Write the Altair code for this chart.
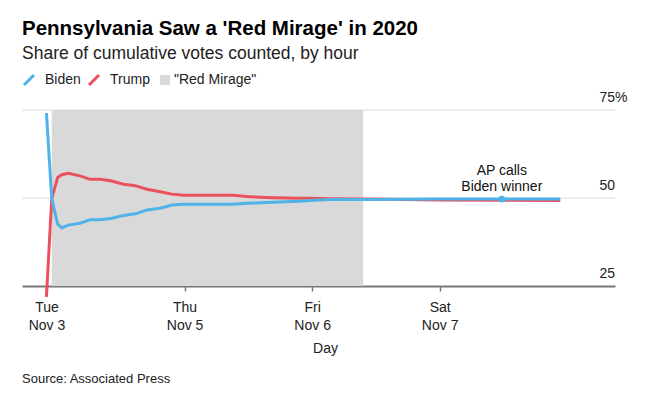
import altair as alt
import pandas as pd

# ---- data ----
hours = [4.6, 5.6, 6.7, 7.5, 8.7, 10.9, 12.8, 14.7, 16.7, 19.1, 21.3, 23.5, 26.0, 28.2,
         30.4, 39.7, 42.3, 47.2, 52.3, 54.2, 57.9, 65.5, 78.1, 90.3, 101.3]
biden = [74.1, 49.8, 42.6, 41.5, 42.3, 42.8, 43.8, 43.8, 44.2, 45.0, 45.5, 46.6, 47.1, 48.0,
         48.2, 48.2, 48.5, 48.8, 49.1, 49.3, 49.6, 49.6, 49.7, 49.7, 49.7]
trump = [21.9, 49.8, 55.8, 56.6, 57.0, 56.3, 55.3, 55.3, 54.9, 53.9, 53.5, 52.5, 51.8, 51.1,
         50.8, 50.8, 50.4, 50.1, 49.9, 49.9, 49.8, 49.7, 49.4, 49.35, 49.3]
mirage_start = [5.6]
mirage_end = [64.2]
ap_hour = [90.3]
ap_share = [49.7]
ap_label = ["AP calls\nBiden winner"]
tick_hours = [4.6, 30.6, 54.6, 78.6]
tick_day = ["Tue", "Thu", "Fri", "Sat"]
tick_date = ["Nov 3", "Nov 5", "Nov 6", "Nov 7"]
y_ticks = [25, 50, 75]
grid_vals = [50, 75]

BLUE = "#4fb3ea"
RED = "#e9515c"
GRAY = "#d9d9d9"
FONT = "Liberation Sans"

n = len(hours)
lines = pd.DataFrame({"hour": hours * 2, "share": biden + trump,
                      "series": ["Biden"] * n + ["Trump"] * n})
band = pd.DataFrame({"start": mirage_start, "end": mirage_end, "lo": [25], "hi": [75],
                     "series": ['"Red Mirage"']})
grid = pd.DataFrame({"share": grid_vals})
ap = pd.DataFrame({"hour": ap_hour, "share": ap_share, "label": ap_label})
source = pd.DataFrame({"t": ["Source: Associated Press"]})

# multi-line tick labels
expr = ""
for i in range(len(tick_hours)):
    lab = f"['{tick_day[i]}','{tick_date[i]}']"
    if i < len(tick_hours) - 1:
        expr += f"datum.value < {tick_hours[i] + 1} ? {lab} : "
    else:
        expr += lab

W, H = 593, 176
xscale = alt.Scale(domain=[0, 111.6], nice=False, zero=False)
yscale = alt.Scale(domain=[25, 75], nice=False, zero=False)

xaxis = alt.Axis(values=tick_hours, labelExpr=expr, title="Day", grid=False,
                 domainColor="#777", domainWidth=2, tickColor="#777", tickSize=5,
                 tickWidth=1.5, labelFontSize=14, labelFont=FONT, labelColor="#222",
                 labelLineHeight=18, labelPadding=9, labelOverlap=False, labelFlush=False,
                 titleFontSize=14, titleFont=FONT, titleFontWeight="normal",
                 titleColor="#222", titlePadding=9, titleX=303)
yaxis = alt.Axis(orient="right", values=y_ticks, domain=False, ticks=False, grid=False,
                 labelAlign="left", labelBaseline="alphabetic", labelPadding=-16,
                 labelOffset=-9, labelExpr="datum.value == 75 ? '75%' : datum.label",
                 labelFontSize=14, labelFont=FONT, labelColor="#222", title=None)

color = alt.Color("series:N",
                  scale=alt.Scale(domain=["Biden", "Trump"], range=[BLUE, RED]),
                  legend=alt.Legend(orient="none", legendX=0, legendY=-37,
                                    direction="horizontal", title=None,
                                    symbolType="M-1,1L1,-1", symbolSize=100,
                                    symbolStrokeWidth=3, labelFontSize=14, labelFont=FONT,
                                    labelColor="#222", labelOffset=9, columnPadding=2))

band_layer = alt.Chart(band).mark_rect().encode(
    x=alt.X("start:Q", scale=xscale, axis=xaxis),
    x2="end:Q",
    y=alt.Y("lo:Q", scale=yscale, axis=yaxis),
    y2="hi:Q",
    fill=alt.Fill("series:N", scale=alt.Scale(range=[GRAY]),
                  legend=alt.Legend(orient="none", legendX=136, legendY=-37,
                                    title=None, symbolType="square", symbolSize=100,
                                    symbolStrokeWidth=0, labelFontSize=14, labelFont=FONT,
                                    labelColor="#222", labelOffset=2)),
)

grid_layer = alt.Chart(grid).mark_rule(color="#dcdcdc", strokeWidth=1).encode(
    y=alt.Y("share:Q", scale=yscale)
)

trump_layer = alt.Chart(lines).transform_filter("datum.series == 'Trump'").mark_line(
    strokeWidth=3).encode(
    x=alt.X("hour:Q", scale=xscale), y=alt.Y("share:Q", scale=yscale), color=color)
biden_layer = alt.Chart(lines).transform_filter("datum.series == 'Biden'").mark_line(
    strokeWidth=3).encode(
    x=alt.X("hour:Q", scale=xscale), y=alt.Y("share:Q", scale=yscale), color=color)

dot = alt.Chart(ap).mark_circle(size=45, color=BLUE, opacity=1).encode(
    x=alt.X("hour:Q", scale=xscale), y=alt.Y("share:Q", scale=yscale))
ap_text = alt.Chart(ap).mark_text(align="center", baseline="bottom", dy=-21,
                                  fontSize=14, font=FONT, color="#111", lineBreak="\n",
                                  lineHeight=16).encode(
    x=alt.X("hour:Q", scale=xscale), y=alt.Y("share:Q", scale=yscale), text="label:N")

src = alt.Chart(source).mark_text(align="left", baseline="middle", fontSize=13, font=FONT,
                                  color="#222").encode(
    x=alt.value(0), y=alt.value(269), text="t:N")

chart = alt.layer(band_layer, grid_layer, trump_layer, biden_layer, dot, ap_text, src).properties(
    width=W, height=H,
    title=alt.TitleParams(text="Pennsylvania Saw a 'Red Mirage' in 2020",
                          subtitle="Share of cumulative votes counted, by hour",
                          anchor="start", frame="group", fontSize=20.5, fontWeight="bold",
                          font=FONT, color="#000", subtitleFont=FONT, subtitleFontSize=17.5,
                          subtitleColor="#222", subtitlePadding=5, offset=11),
    autosize=alt.AutoSizeParams(type="none"),
    padding={"left": 14, "top": 102, "right": 36, "bottom": 104},
).configure_view(stroke=None)

chart.save("out.html", embed_options={"renderer": "svg", "actions": False})
